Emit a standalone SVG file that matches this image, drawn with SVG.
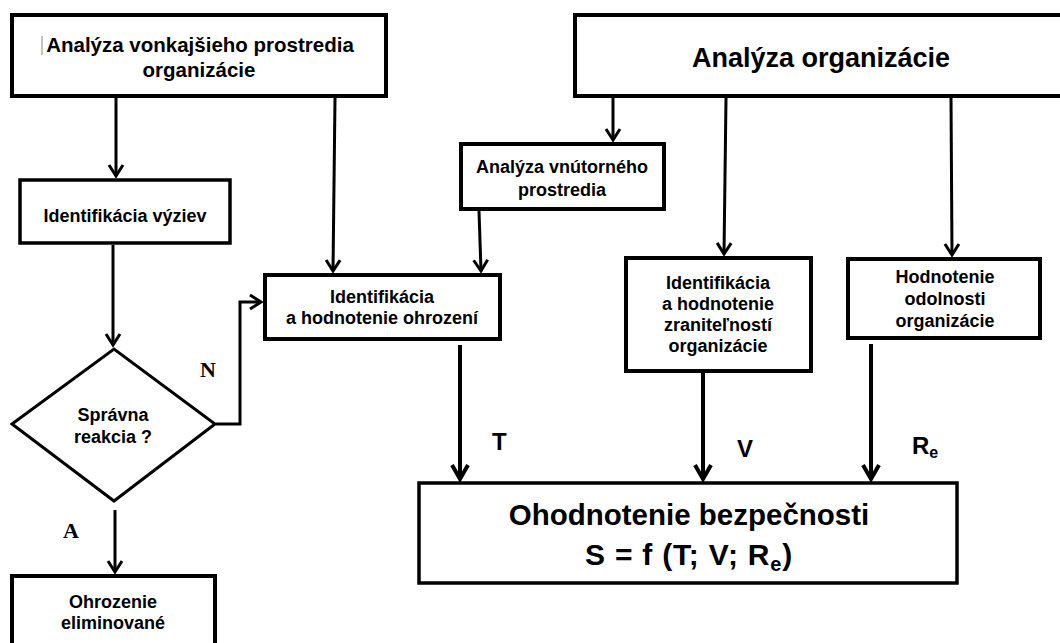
<svg xmlns="http://www.w3.org/2000/svg" width="1060" height="643" viewBox="0 0 1060 643">
<style>
.box{fill:#fff;stroke:#000;stroke-width:4}
.t{font-family:"Liberation Sans",Arial,sans-serif;font-weight:bold;fill:#000;text-anchor:middle}
.s18{font-size:18px}
.lbl{font-family:"Liberation Sans",Arial,sans-serif;font-weight:bold;font-size:24px;fill:#000}
.ser{font-family:"Liberation Serif","Times New Roman",serif;font-weight:bold;font-size:22px;fill:#000}
.c{fill:none;stroke:#000;stroke-width:3}
.c4{fill:none;stroke:#000;stroke-width:4}
</style>
<defs>
<marker id="ah" markerUnits="userSpaceOnUse" markerWidth="20" markerHeight="20" refX="0" refY="0" orient="auto" overflow="visible">
<path d="M-11,-7 L0,0 L-11,7" fill="none" stroke="#000" stroke-width="3"/>
</marker>
<marker id="ahb" markerUnits="userSpaceOnUse" markerWidth="20" markerHeight="20" refX="0" refY="0" orient="auto" overflow="visible">
<path d="M-14,-8 L0,0 L-14,8" fill="none" stroke="#000" stroke-width="4"/>
</marker>
</defs>
<rect width="1060" height="643" fill="#fff"/>

<g id="connectors">
<line class="c" x1="116" y1="98" x2="116" y2="176" marker-end="url(#ah)"/>
<line class="c" x1="335" y1="98" x2="333" y2="271" marker-end="url(#ah)"/>
<line class="c" x1="613" y1="98" x2="613" y2="140" marker-end="url(#ah)"/>
<line class="c" x1="479" y1="211" x2="481" y2="271" marker-end="url(#ah)"/>
<line class="c" x1="726" y1="98" x2="724" y2="254" marker-end="url(#ah)"/>
<line class="c" x1="951" y1="98" x2="952" y2="255" marker-end="url(#ah)"/>
<line class="c" x1="113" y1="245" x2="113" y2="345" marker-end="url(#ah)"/>
<polyline class="c" points="216,424 240,424 240,302 261,302" marker-end="url(#ah)"/>
<line class="c" x1="115" y1="510" x2="115" y2="572" marker-end="url(#ah)"/>
<line class="c4" x1="460" y1="345" x2="460" y2="479" marker-end="url(#ahb)"/>
<line class="c4" x1="703" y1="373" x2="703" y2="479" marker-end="url(#ahb)"/>
<line class="c4" x1="871" y1="344" x2="871" y2="479" marker-end="url(#ahb)"/>
</g>

<g id="labels">
<text class="lbl" x="492" y="450">T</text>
<text class="lbl" x="737" y="457">V</text>
<text class="lbl" x="912" y="454">R<tspan font-size="16" dy="4">e</tspan></text>
<text class="ser" x="200" y="377">N</text>
<text class="ser" x="63" y="538">A</text>
</g>

<g id="n-vonkajsie">
<rect class="box" x="12" y="15" width="374" height="81"/>
<line x1="42" y1="36" x2="42" y2="55" stroke="#888" stroke-width="1"/>
<text class="t" x="200" y="52" font-size="20.5">Analýza vonkajšieho prostredia</text>
<text class="t" x="199" y="77" font-size="20.5">organizácie</text>
</g>

<g id="n-vyzvy">
<rect class="box" x="20" y="180" width="210" height="63" style="stroke-width:3.5"/>
<text class="t s18" x="125" y="222">Identifikácia výziev</text>
</g>

<g id="n-ohrozenia">
<rect class="box" x="265" y="275" width="235" height="64"/>
<text class="t s18" x="382" y="303">Identifikácia</text>
<text class="t s18" x="382" y="324">a hodnotenie ohrození</text>
</g>

<g id="n-reakcia">
<polygon class="box" points="12,424 114,349 215,424 114,501" style="stroke-width:3"/>
<text class="t s18" x="113" y="421">Správna</text>
<text class="t s18" x="113" y="443">reakcia ?</text>
</g>

<g id="n-eliminovane">
<rect class="box" x="12" y="576" width="203" height="100"/>
<text class="t s18" x="113" y="608">Ohrozenie</text>
<text class="t s18" x="113" y="629">eliminované</text>
</g>

<g id="n-organizacia">
<rect class="box" x="575" y="15" width="500" height="81"/>
<text class="t" x="821" y="67" font-size="27">Analýza organizácie</text>
</g>

<g id="n-vnutorne">
<rect class="box" x="461" y="144" width="203" height="65"/>
<text class="t s18" x="562" y="173">Analýza vnútorného</text>
<text class="t s18" x="562" y="196">prostredia</text>
</g>

<g id="n-zranitelnosti">
<rect class="box" x="626" y="258" width="185" height="113"/>
<text class="t s18" x="718" y="289">Identifikácia</text>
<text class="t s18" x="718" y="310">a hodnotenie</text>
<text class="t s18" x="718" y="331">zraniteľností</text>
<text class="t s18" x="718" y="352">organizácie</text>
</g>

<g id="n-odolnost">
<rect class="box" x="848" y="259" width="192" height="79"/>
<text class="t s18" x="945" y="283">Hodnotenie</text>
<text class="t s18" x="945" y="305">odolnosti</text>
<text class="t s18" x="945" y="327">organizácie</text>
</g>

<g id="n-bezpecnost">
<rect class="box" x="419" y="483" width="538" height="100" style="stroke-width:3.5"/>
<text class="t" x="689" y="525" font-size="29.5">Ohodnotenie bezpečnosti</text>
<text class="t" x="689" y="565" font-size="30" letter-spacing="0.8">S = f (T; V; R<tspan font-size="20" dy="6">e</tspan><tspan dy="-6">)</tspan></text>
</g>
</svg>
